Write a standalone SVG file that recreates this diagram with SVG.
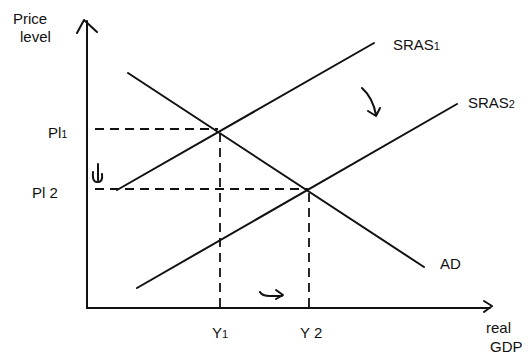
<svg xmlns="http://www.w3.org/2000/svg" width="528" height="354" viewBox="0 0 528 354">
<style>
.ln{stroke:#111;stroke-width:2;fill:none;stroke-linecap:round;stroke-linejoin:round}
.ds{stroke:#111;stroke-width:1.8;fill:none;stroke-dasharray:9 6}
.t{font-family:"Liberation Sans",Arial,sans-serif;fill:#111;font-size:15px}
.s{font-size:11px}
</style>
<rect width="528" height="354" fill="#fff"/>
<g id="axes">
<path class="ln" d="M87,308 V21 M77,33 L84,20 L97,32"/>
<path class="ln" d="M87,308 H490 M484,301 L492,306 L484,312"/>
</g>
<g id="connectors">
<path class="ds" d="M95,129 H218"/>
<path class="ds" d="M95,189 H308"/>
<path class="ds" d="M220,133 V308"/>
<path class="ds" d="M309,193 V308"/>
</g>
<g id="curve-AD"><path class="ln" d="M128,73 L424,267"/><text class="t" x="440" y="269">AD</text></g>
<g id="curve-SRAS1"><path class="ln" d="M117,190 L374,43"/><text class="t" x="393" y="50">SRAS<tspan class="s">1</tspan></text></g>
<g id="curve-SRAS2"><path class="ln" d="M137,288 L457,104"/><text class="t" x="468" y="108">SRAS<tspan class="s">2</tspan></text></g>
<g id="label-price"><text class="t" x="13" y="24">Price</text><text class="t" x="20" y="42">level</text></g>
<g id="label-P1"><text class="t" x="48" y="138">Pl<tspan class="s">1</tspan></text></g>
<g id="label-P2"><text class="t" x="32" y="198">Pl 2</text></g>
<g id="label-Y1"><text class="t" x="212" y="338">Y<tspan class="s">1</tspan></text></g>
<g id="label-Y2"><text class="t" x="300" y="338">Y 2</text></g>
<g id="label-GDP"><text class="t" x="486" y="333">real</text><text class="t" x="490" y="352">GDP</text></g>
<g id="shift-arrows">
<path class="ln" d="M98,164 V180 M93,172 Q92,183 98,182 Q103,182 102,174" stroke-width="1.6"/>
<path class="ln" d="M362,88 Q373,98 376,115 M368,111 L376,116 L380,108" stroke-width="1.6"/>
<path class="ln" d="M260,292 Q262,296 270,296 H282 M276,290 L283,295 L276,299" stroke-width="1.6"/>
</g>
</svg>
